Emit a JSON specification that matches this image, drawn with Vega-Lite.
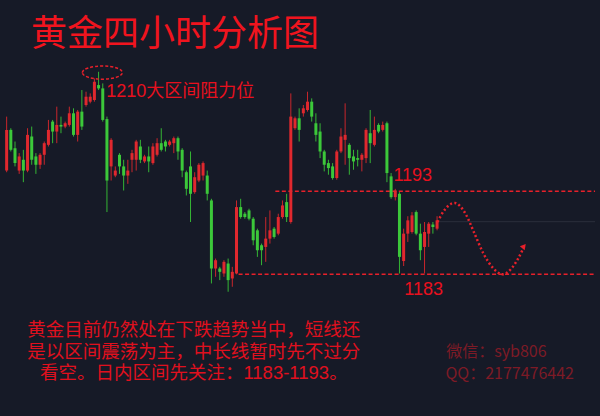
{
  "$schema": "https://vega.github.io/schema/vega-lite/v6.json",
  "width": 600,
  "height": 416,
  "autosize": {"type": "fit", "contains": "padding"},
  "padding": 0,
  "background": "#161a27",
  "config": {"view": {"stroke": null}},
  "datasets": {
    "candles": [
      {"i":1,"o":1195.5,"c":1200.4,"h":1202.0,"l":1195.3},
      {"i":2,"o":1200.4,"c":1198.0,"h":1200.6,"l":1197.8},
      {"i":3,"o":1198.2,"c":1196.4,"h":1199.0,"l":1196.0},
      {"i":4,"o":1195.5,"c":1197.2,"h":1197.6,"l":1195.1},
      {"i":5,"o":1196.8,"c":1195.5,"h":1198.0,"l":1194.1},
      {"i":6,"o":1195.5,"c":1199.8,"h":1200.6,"l":1195.3},
      {"i":7,"o":1199.6,"c":1196.8,"h":1200.8,"l":1196.2},
      {"i":8,"o":1197.2,"c":1196.2,"h":1197.6,"l":1195.1},
      {"i":9,"o":1196.2,"c":1197.4,"h":1197.6,"l":1195.7},
      {"i":10,"o":1197.4,"c":1198.8,"h":1199.0,"l":1196.2},
      {"i":11,"o":1198.6,"c":1200.4,"h":1201.6,"l":1198.4},
      {"i":12,"o":1201.4,"c":1200.2,"h":1201.6,"l":1198.8},
      {"i":13,"o":1200.2,"c":1201.0,"h":1203.2,"l":1198.8},
      {"i":14,"o":1201.0,"c":1200.8,"h":1202.0,"l":1200.0},
      {"i":15,"o":1200.8,"c":1201.2,"h":1201.4,"l":1200.6},
      {"i":16,"o":1201.0,"c":1202.4,"h":1203.2,"l":1200.8},
      {"i":17,"o":1202.4,"c":1199.8,"h":1203.0,"l":1199.6},
      {"i":18,"o":1199.8,"c":1202.6,"h":1202.8,"l":1199.0},
      {"i":19,"o":1202.6,"c":1200.8,"h":1205.2,"l":1200.4},
      {"i":20,"o":1203.4,"c":1204.4,"h":1205.0,"l":1203.2},
      {"i":21,"o":1203.8,"c":1204.4,"h":1204.8,"l":1203.6},
      {"i":22,"o":1204.0,"c":1206.2,"h":1206.6,"l":1203.8},
      {"i":23,"o":1205.8,"c":1205.4,"h":1207.4,"l":1205.2},
      {"i":24,"o":1205.4,"c":1201.6,"h":1206.0,"l":1201.4},
      {"i":25,"o":1201.7,"c":1194.3,"h":1202.0,"l":1190.5},
      {"i":26,"o":1196.0,"c":1199.2,"h":1199.4,"l":1194.3},
      {"i":27,"o":1194.9,"c":1195.5,"h":1196.0,"l":1194.7},
      {"i":28,"o":1197.4,"c":1196.0,"h":1197.6,"l":1195.1},
      {"i":29,"o":1196.0,"c":1194.9,"h":1196.8,"l":1193.1},
      {"i":30,"o":1194.9,"c":1195.5,"h":1196.8,"l":1193.9},
      {"i":31,"o":1196.8,"c":1197.6,"h":1198.0,"l":1195.3},
      {"i":32,"o":1196.8,"c":1199.0,"h":1199.2,"l":1195.5},
      {"i":33,"o":1198.4,"c":1196.8,"h":1199.2,"l":1196.4},
      {"i":34,"o":1196.6,"c":1197.2,"h":1197.4,"l":1196.4},
      {"i":35,"o":1197.2,"c":1196.6,"h":1198.4,"l":1195.3},
      {"i":36,"o":1196.4,"c":1198.4,"h":1198.8,"l":1196.2},
      {"i":37,"o":1197.4,"c":1198.8,"h":1199.4,"l":1197.2},
      {"i":38,"o":1198.8,"c":1198.0,"h":1200.6,"l":1197.8},
      {"i":39,"o":1199.0,"c":1198.4,"h":1199.2,"l":1197.8},
      {"i":40,"o":1198.6,"c":1199.0,"h":1199.2,"l":1198.4},
      {"i":41,"o":1198.8,"c":1199.4,"h":1199.6,"l":1197.6},
      {"i":42,"o":1199.4,"c":1197.8,"h":1199.6,"l":1196.8},
      {"i":43,"o":1198.0,"c":1195.5,"h":1198.2,"l":1194.7},
      {"i":44,"o":1195.3,"c":1193.3,"h":1195.5,"l":1192.5},
      {"i":45,"o":1196.0,"c":1192.7,"h":1197.8,"l":1189.3},
      {"i":46,"o":1192.9,"c":1194.7,"h":1195.3,"l":1192.7},
      {"i":47,"o":1194.3,"c":1196.2,"h":1196.4,"l":1194.1},
      {"i":48,"o":1194.9,"c":1196.4,"h":1196.6,"l":1194.3},
      {"i":49,"o":1194.9,"c":1192.7,"h":1195.5,"l":1191.9},
      {"i":50,"o":1191.9,"c":1183.7,"h":1192.1,"l":1181.9},
      {"i":51,"o":1183.7,"c":1184.7,"h":1184.9,"l":1182.7},
      {"i":52,"o":1183.7,"c":1183.3,"h":1183.9,"l":1182.3},
      {"i":53,"o":1183.1,"c":1184.5,"h":1184.7,"l":1182.7},
      {"i":54,"o":1184.3,"c":1182.3,"h":1184.9,"l":1180.9},
      {"i":55,"o":1182.5,"c":1183.3,"h":1183.9,"l":1181.5},
      {"i":56,"o":1183.1,"c":1191.1,"h":1191.9,"l":1183.0},
      {"i":57,"o":1191.1,"c":1189.9,"h":1192.1,"l":1189.7},
      {"i":58,"o":1190.3,"c":1189.9,"h":1190.5,"l":1189.7},
      {"i":59,"o":1190.7,"c":1189.7,"h":1190.9,"l":1189.5},
      {"i":60,"o":1189.7,"c":1187.1,"h":1189.9,"l":1186.5},
      {"i":61,"o":1188.3,"c":1185.9,"h":1188.5,"l":1185.1},
      {"i":62,"o":1186.5,"c":1185.9,"h":1186.7,"l":1184.1},
      {"i":63,"o":1186.3,"c":1187.3,"h":1189.9,"l":1184.5},
      {"i":64,"o":1187.3,"c":1188.3,"h":1190.7,"l":1186.7},
      {"i":65,"o":1188.5,"c":1187.5,"h":1188.7,"l":1187.3},
      {"i":66,"o":1187.9,"c":1189.9,"h":1190.3,"l":1187.7},
      {"i":67,"o":1189.9,"c":1191.3,"h":1191.9,"l":1189.7},
      {"i":68,"o":1191.7,"c":1189.9,"h":1192.7,"l":1189.3},
      {"i":69,"o":1189.3,"c":1202.0,"h":1204.8,"l":1189.1},
      {"i":70,"o":1200.6,"c":1201.8,"h":1202.0,"l":1200.4},
      {"i":71,"o":1201.8,"c":1200.4,"h":1203.0,"l":1199.0},
      {"i":72,"o":1202.4,"c":1203.0,"h":1203.4,"l":1202.0},
      {"i":73,"o":1202.8,"c":1203.8,"h":1205.0,"l":1202.6},
      {"i":74,"o":1203.8,"c":1202.0,"h":1204.2,"l":1201.4},
      {"i":75,"o":1201.2,"c":1199.8,"h":1202.4,"l":1199.0},
      {"i":76,"o":1200.2,"c":1197.8,"h":1201.2,"l":1197.0},
      {"i":77,"o":1197.8,"c":1196.2,"h":1198.0,"l":1195.4},
      {"i":78,"o":1196.4,"c":1195.8,"h":1196.8,"l":1195.0},
      {"i":79,"o":1196.0,"c":1194.6,"h":1196.4,"l":1194.4},
      {"i":80,"o":1194.6,"c":1197.8,"h":1198.0,"l":1194.4},
      {"i":81,"o":1197.8,"c":1199.6,"h":1200.6,"l":1197.6},
      {"i":82,"o":1199.2,"c":1199.8,"h":1203.6,"l":1196.2},
      {"i":83,"o":1198.6,"c":1197.0,"h":1198.8,"l":1195.0},
      {"i":84,"o":1197.2,"c":1196.6,"h":1198.0,"l":1195.6},
      {"i":85,"o":1197.0,"c":1196.8,"h":1198.0,"l":1196.0},
      {"i":86,"o":1196.8,"c":1197.4,"h":1197.6,"l":1195.4},
      {"i":87,"o":1197.0,"c":1200.4,"h":1200.6,"l":1196.4},
      {"i":88,"o":1200.0,"c":1198.8,"h":1202.8,"l":1196.4},
      {"i":89,"o":1198.6,"c":1200.4,"h":1202.0,"l":1198.4},
      {"i":90,"o":1201.0,"c":1200.2,"h":1201.2,"l":1200.0},
      {"i":91,"o":1200.4,"c":1201.0,"h":1201.4,"l":1200.2},
      {"i":92,"o":1201.2,"c":1195.2,"h":1201.4,"l":1194.1},
      {"i":93,"o":1194.8,"c":1192.3,"h":1195.2,"l":1192.1},
      {"i":94,"o":1192.3,"c":1193.1,"h":1193.3,"l":1191.9},
      {"i":95,"o":1192.7,"c":1185.1,"h":1192.9,"l":1183.1},
      {"i":96,"o":1184.6,"c":1187.9,"h":1188.5,"l":1184.0},
      {"i":97,"o":1187.9,"c":1189.5,"h":1190.0,"l":1186.9},
      {"i":98,"o":1188.1,"c":1190.1,"h":1190.5,"l":1187.9},
      {"i":99,"o":1190.5,"c":1187.9,"h":1190.7,"l":1187.7},
      {"i":100,"o":1187.9,"c":1185.9,"h":1189.1,"l":1184.7},
      {"i":101,"o":1186.3,"c":1188.1,"h":1189.3,"l":1183.1},
      {"i":102,"o":1187.9,"c":1189.1,"h":1189.3,"l":1186.3},
      {"i":103,"o":1189.0,"c":1188.7,"h":1189.3,"l":1187.9},
      {"i":104,"o":1188.5,"c":1189.5,"h":1190.0,"l":1188.3}
    ],
    "levels": [
      {"p":1193,"i":65.3,"i2":141.8},
      {"p":1183,"i":56.5,"i2":141.8}
    ],
    "current": [{"p":1189.34,"i":104.1,"i2":141.8}],
    "wave": [
      {"i":104.1,"p":1189.3},
      {"i":105.7,"p":1190.7},
      {"i":108.2,"p":1191.6},
      {"i":110.8,"p":1190.3},
      {"i":112.8,"p":1188.1},
      {"i":115.1,"p":1185.5},
      {"i":117.5,"p":1183.7},
      {"i":119.7,"p":1183.0},
      {"i":121.8,"p":1183.7},
      {"i":123.4,"p":1184.9},
      {"i":124.6,"p":1186.1}
    ],
    "arrow": [{"i":124.8,"p":1186.4}],
    "ellipse": [{"i":23.9,"p":1207.3}],
    "title": [{"i":6.8,"p":1211.83,"t":"黄金四小时分析图"}],
    "labels": [
      {"i":24.84,"p":1204.96,"t":"1210大区间阻力位"},
      {"i":93.55,"p":1194.84,"t":"1193"},
      {"i":96.14,"p":1181.11,"t":"1183"}
    ],
    "para": [
      {"i":45.78,"p":1176.29,"t":"黄金目前仍然处在下跌趋势当中，短线还\n是以区间震荡为主，中长线暂时先不过分\n看空。日内区间先关注：1183-1193。"}
    ],
    "contact": [
      {"i":106.2,"p":1173.64,"t":"微信：syb806"},
      {"i":106.0,"p":1171.0,"t":"QQ：2177476442"}
    ]
  },
  "layer": [
    {
      "data": {"name": "current"},
      "mark": {"type": "rule", "color": "#2b2f3c", "strokeWidth": 1},
      "encoding": {
        "x": {"field": "i", "type": "quantitative", "scale": {"domain": [0.607, 141.79], "nice": false, "zero": false}, "axis": null},
        "x2": {"field": "i2"},
        "y": {"field": "p", "type": "quantitative", "scale": {"domain": [1165.93, 1216.05], "nice": false, "zero": false}, "axis": null}
      }
    },
    {
      "data": {"name": "levels"},
      "mark": {"type": "rule", "color": "#e8202a", "strokeWidth": 1.6, "strokeDash": [4, 2.5]},
      "encoding": {
        "x": {"field": "i", "type": "quantitative", "scale": {"domain": [0.607, 141.79], "nice": false, "zero": false}, "axis": null},
        "x2": {"field": "i2"},
        "y": {"field": "p", "type": "quantitative", "scale": {"domain": [1165.93, 1216.05], "nice": false, "zero": false}, "axis": null}
      }
    },
    {
      "data": {"name": "candles"},
      "mark": {"type": "rule", "strokeWidth": 1},
      "encoding": {
        "x": {"field": "i", "type": "quantitative", "scale": {"domain": [0.607, 141.79], "nice": false, "zero": false}, "axis": null},
        "y": {"field": "l", "type": "quantitative", "scale": {"domain": [1165.93, 1216.05], "nice": false, "zero": false}, "axis": null},
        "y2": {"field": "h"},
        "color": {"condition": {"test": "datum.c >= datum.o", "value": "#c8262c"}, "value": "#35b535"}
      }
    },
    {
      "data": {"name": "candles"},
      "mark": {"type": "bar", "size": 3},
      "encoding": {
        "x": {"field": "i", "type": "quantitative", "scale": {"domain": [0.607, 141.79], "nice": false, "zero": false}, "axis": null},
        "y": {"field": "o", "type": "quantitative", "scale": {"domain": [1165.93, 1216.05], "nice": false, "zero": false}, "axis": null},
        "y2": {"field": "c"},
        "color": {"condition": {"test": "datum.c >= datum.o", "value": "#e0282e"}, "value": "#3cc83a"}
      }
    },
    {
      "data": {"name": "wave"},
      "mark": {"type": "line", "color": "#e8202a", "strokeWidth": 2.5, "strokeDash": [2, 2.4], "interpolate": "monotone"},
      "encoding": {
        "x": {"field": "i", "type": "quantitative", "scale": {"domain": [0.607, 141.79], "nice": false, "zero": false}, "axis": null},
        "y": {"field": "p", "type": "quantitative", "scale": {"domain": [1165.93, 1216.05], "nice": false, "zero": false}, "axis": null}
      }
    },
    {
      "data": {"name": "arrow"},
      "mark": {"type": "point", "shape": "triangle-up", "angle": 40, "size": 40, "filled": true, "color": "#e8202a", "opacity": 1},
      "encoding": {
        "x": {"field": "i", "type": "quantitative", "scale": {"domain": [0.607, 141.79], "nice": false, "zero": false}, "axis": null},
        "y": {"field": "p", "type": "quantitative", "scale": {"domain": [1165.93, 1216.05], "nice": false, "zero": false}, "axis": null}
      }
    },
    {
      "data": {"name": "ellipse"},
      "mark": {"type": "point", "shape": "M-1,0A1,0.33,0,1,1,1,0A1,0.33,0,1,1,-1,0Z", "size": 1600, "filled": false, "color": "#e8202a", "strokeWidth": 1.5, "strokeDash": [3, 2], "opacity": 1},
      "encoding": {
        "x": {"field": "i", "type": "quantitative", "scale": {"domain": [0.607, 141.79], "nice": false, "zero": false}, "axis": null},
        "y": {"field": "p", "type": "quantitative", "scale": {"domain": [1165.93, 1216.05], "nice": false, "zero": false}, "axis": null}
      }
    },
    {
      "data": {"name": "title"},
      "mark": {"type": "text", "align": "left", "baseline": "middle", "font": "Noto Sans CJK SC", "fontSize": 36, "color": "#f0141e"},
      "encoding": {
        "x": {"field": "i", "type": "quantitative", "scale": {"domain": [0.607, 141.79], "nice": false, "zero": false}, "axis": null},
        "y": {"field": "p", "type": "quantitative", "scale": {"domain": [1165.93, 1216.05], "nice": false, "zero": false}, "axis": null},
        "text": {"field": "t"}
      }
    },
    {
      "data": {"name": "labels"},
      "mark": {"type": "text", "align": "left", "baseline": "middle", "font": "Liberation Sans, Noto Sans CJK SC", "fontSize": 18, "color": "#e8101e"},
      "encoding": {
        "x": {"field": "i", "type": "quantitative", "scale": {"domain": [0.607, 141.79], "nice": false, "zero": false}, "axis": null},
        "y": {"field": "p", "type": "quantitative", "scale": {"domain": [1165.93, 1216.05], "nice": false, "zero": false}, "axis": null},
        "text": {"field": "t"}
      }
    },
    {
      "data": {"name": "para"},
      "mark": {"type": "text", "align": "center", "baseline": "middle", "lineBreak": "\n", "lineHeight": 21.5, "font": "Liberation Sans, Noto Sans CJK SC", "fontSize": 18.5, "color": "#e0101e"},
      "encoding": {
        "x": {"field": "i", "type": "quantitative", "scale": {"domain": [0.607, 141.79], "nice": false, "zero": false}, "axis": null},
        "y": {"field": "p", "type": "quantitative", "scale": {"domain": [1165.93, 1216.05], "nice": false, "zero": false}, "axis": null},
        "text": {"field": "t"}
      }
    },
    {
      "data": {"name": "contact"},
      "mark": {"type": "text", "align": "left", "baseline": "middle", "font": "Noto Sans CJK SC", "fontSize": 16, "color": "#7d1a26"},
      "encoding": {
        "x": {"field": "i", "type": "quantitative", "scale": {"domain": [0.607, 141.79], "nice": false, "zero": false}, "axis": null},
        "y": {"field": "p", "type": "quantitative", "scale": {"domain": [1165.93, 1216.05], "nice": false, "zero": false}, "axis": null},
        "text": {"field": "t"}
      }
    }
  ]
}
